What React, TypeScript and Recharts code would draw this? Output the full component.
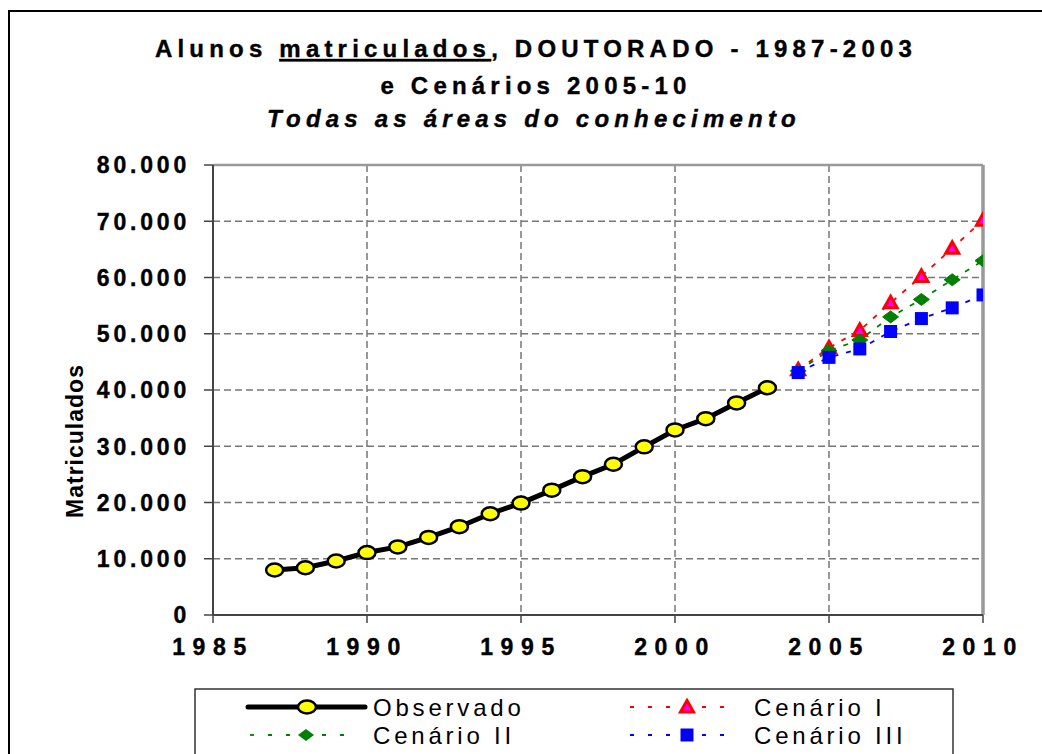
import React from 'react';
import { LineChart, Line, XAxis, YAxis, CartesianGrid, ReferenceLine } from 'recharts';

const FONT = '"Liberation Sans", Arial, sans-serif';

const titleLines = ['Alunos ', 'matriculados', ', DOUTORADO - 1987-2003'];
const titleLine2 = 'e Cenários 2005-10';
const titleLine3 = 'Todas as áreas do conhecimento';
const yAxisTitle = 'Matriculados';

const xTicks = [1985, 1990, 1995, 2000, 2005, 2010];
const yTicks = [0, 10000, 20000, 30000, 40000, 50000, 60000, 70000, 80000];

const observedYears = [1987, 1988, 1989, 1990, 1991, 1992, 1993, 1994, 1995, 1996, 1997, 1998, 1999, 2000, 2001, 2002, 2003];
const observedValues = [8000, 8400, 9600, 11100, 12100, 13800, 15700, 18000, 19900, 22200, 24600, 26800, 29900, 32900, 34900, 37700, 40400];

const scenarioYears = [2004, 2005, 2006, 2007, 2008, 2009, 2010];
const scenario1 = [43600, 47500, 50600, 55500, 60200, 65200, 70200];
const scenario2 = [43400, 47000, 48900, 53000, 56100, 59600, 63000];
const scenario3 = [43100, 45800, 47300, 50400, 52700, 54600, 56900];

const seriesNames = ['Observado', 'Cenário I', 'Cenário II', 'Cenário III'];

const observedData = observedYears.map((year, i) => ({ year, value: observedValues[i] }));
const scen1Data = scenarioYears.map((year, i) => ({ year, value: scenario1[i] }));
const scen2Data = scenarioYears.map((year, i) => ({ year, value: scenario2[i] }));
const scen3Data = scenarioYears.map((year, i) => ({ year, value: scenario3[i] }));

const fmt = (v: number) => (v === 0 ? '0' : v.toLocaleString('de-DE'));

const EllipseDot = (props: any) => {
  const { cx, cy, index } = props;
  if (cx == null || cy == null) return <g key={`o${index}`} />;
  return <ellipse key={`o${index}`} cx={cx} cy={cy} rx={8.5} ry={6.5} fill="#FFFF00" stroke="#000" strokeWidth={2.5} />;
};
const TriangleDot = (props: any) => {
  const { cx, cy, index } = props;
  if (cx == null || cy == null) return <g key={`t${index}`} />;
  return (
    <polygon key={`t${index}`} points={`${cx},${cy - 6.5} ${cx + 6.5},${cy + 5} ${cx - 6.5},${cy + 5}`}
      fill="#FF00FF" stroke="#FF0000" strokeWidth={3} strokeLinejoin="miter" />
  );
};
const DiamondDot = (props: any) => {
  const { cx, cy, index } = props;
  if (cx == null || cy == null) return <g key={`d${index}`} />;
  return (
    <polygon key={`d${index}`} points={`${cx},${cy - 6} ${cx + 8},${cy} ${cx},${cy + 6} ${cx - 8},${cy}`}
      fill="#008000" stroke="#008000" strokeWidth={1} />
  );
};
const SquareDot = (props: any) => {
  const { cx, cy, index } = props;
  if (cx == null || cy == null) return <g key={`s${index}`} />;
  return <rect key={`s${index}`} x={cx - 6.5} y={cy - 6.5} width={13} height={13} fill="#0000FF" />;
};

const YTick = (props: any) => {
  const { x, y, payload } = props;
  return (
    <text x={x} y={y} dy="0.36em" textAnchor="end" fontFamily={FONT} fontWeight="bold" fontSize={23}
      letterSpacing={3.8} fill="#000" stroke="#000" strokeWidth={0.4}>
      {fmt(payload.value)}
    </text>
  );
};
const XTick = (props: any) => {
  const { x, y, payload } = props;
  return (
    <text x={x} y={y + 30} textAnchor="middle" fontFamily={FONT} fontWeight="bold" fontSize={23}
      letterSpacing={7.6} fill="#000" stroke="#000" strokeWidth={0.4}>
      {payload.value}
    </text>
  );
};

const YLabel = (props: any) => {
  const vb = props.viewBox || { x: 0, y: 165, width: 213, height: 450 };
  const cx = vb.x + 75;
  const cy = vb.y + vb.height / 2 + 51;
  return (
    <text x={cx} y={cy} transform={`rotate(-90 ${cx} ${cy})`} textAnchor="middle" dy="0.36em"
      fontFamily={FONT} fontWeight="bold" fontSize={23} letterSpacing={1} fill="#000">
      {yAxisTitle}
    </text>
  );
};

const Legend = () => {
  const t = { fontFamily: FONT, fontSize: 24, letterSpacing: 3.8, fill: '#000' } as any;
  return (
    <g>
      <rect x={195} y={689} width={758} height={80} fill="#fff" stroke="#333" strokeWidth={1.5} />
      {/* Observado */}
      <line x1={248} y1={707} x2={365} y2={707} stroke="#000" strokeWidth={5} strokeLinecap="round" />
      <ellipse cx={307} cy={707} rx={9} ry={6.5} fill="#FFFF00" stroke="#000" strokeWidth={2.5} />
      <text x={373} y={716} {...t}>{seriesNames[0]}</text>
      {/* Cenario II */}
      <line x1={250} y1={735} x2={357} y2={735} stroke="#008000" strokeWidth={1.8} strokeDasharray="4 14" />
      <polygon points="306,729 314,735 306,741 298,735" fill="#008000" />
      <text x={373} y={744} {...t}>{seriesNames[2]}</text>
      {/* Cenario I */}
      <line x1={630} y1={707} x2={738} y2={707} stroke="#FF0000" strokeWidth={1.8} strokeDasharray="4 14" />
      <polygon points="687,700.5 693.5,712 680.5,712" fill="#FF00FF" stroke="#FF0000" strokeWidth={3} />
      <text x={754} y={716} {...t}>{seriesNames[1]}</text>
      {/* Cenario III */}
      <line x1={630} y1={735} x2={738} y2={735} stroke="#0000FF" strokeWidth={1.8} strokeDasharray="4 14" />
      <rect x={680.5} y={728.5} width={13} height={13} fill="#0000FF" />
      <text x={754} y={744} {...t}>{seriesNames[3]}</text>
    </g>
  );
};

export default function App() {
  const titleStyle = { fontFamily: FONT, fontSize: 24, fontWeight: 'bold', letterSpacing: 5.2, fill: '#000', stroke: '#000', strokeWidth: 0.4 } as any;
  return (
    <div style={{ position: 'absolute', left: 0, top: 0, width: 1042, height: 754, overflow: 'hidden', background: '#fff' }}>
      <div style={{ position: 'absolute', left: 0, top: 0 }}>
        <LineChart width={1042} height={754} margin={{ top: 165, right: 59, bottom: 0, left: 0 }}>
          <CartesianGrid stroke="#777" strokeWidth={1.5} strokeDasharray="7 4" />
          <XAxis type="number" dataKey="year" domain={[1985, 2010]} ticks={xTicks} allowDataOverflow
            height={139} tickSize={8} tickMargin={2} tick={<XTick />} axisLine={{ stroke: '#444', strokeWidth: 2 }}
            tickLine={{ stroke: '#444', strokeWidth: 1.5 }} />
          <YAxis type="number" domain={[0, 80000]} ticks={yTicks} width={213} tickSize={9} tickMargin={14}
            tick={<YTick />} axisLine={{ stroke: '#444', strokeWidth: 2 }} tickLine={{ stroke: '#444', strokeWidth: 1.5 }}
            label={<YLabel />} />
          <ReferenceLine y={80000} stroke="#999" strokeWidth={2.5} ifOverflow="visible" />
          <ReferenceLine x={2010} stroke="#999" strokeWidth={3.5} ifOverflow="visible" />
          <Line data={observedData} dataKey="value" name={seriesNames[0]} stroke="#000" strokeWidth={5}
            dot={EllipseDot} isAnimationActive={false} />
          <Line data={scen1Data} dataKey="value" name={seriesNames[1]} stroke="#FF0000" strokeWidth={1.8}
            strokeDasharray="5 8" dot={TriangleDot} isAnimationActive={false} />
          <Line data={scen2Data} dataKey="value" name={seriesNames[2]} stroke="#008000" strokeWidth={1.8}
            strokeDasharray="5 8" dot={DiamondDot} isAnimationActive={false} />
          <Line data={scen3Data} dataKey="value" name={seriesNames[3]} stroke="#0000FF" strokeWidth={1.8}
            strokeDasharray="5 8" dot={SquareDot} isAnimationActive={false} />
        </LineChart>
      </div>
      <svg width={1042} height={754} style={{ position: 'absolute', left: 0, top: 0, pointerEvents: 'none' }}>
        <path d="M 9 800 L 9 11 L 1100 11" fill="none" stroke="#000" strokeWidth={2} />
        <text x={536} y={57} textAnchor="middle" {...titleStyle}>
          <tspan>{titleLines[0]}</tspan>
          <tspan textDecoration="underline" style={{ textDecoration: 'underline' }}>{titleLines[1]}</tspan>
          <tspan>{titleLines[2]}</tspan>
        </text>
        <text x={536} y={94} textAnchor="middle" {...titleStyle}>{titleLine2}</text>
        <text x={534} y={127} textAnchor="middle" {...titleStyle} fontStyle="italic">{titleLine3}</text>
        <Legend />
      </svg>
    </div>
  );
}
